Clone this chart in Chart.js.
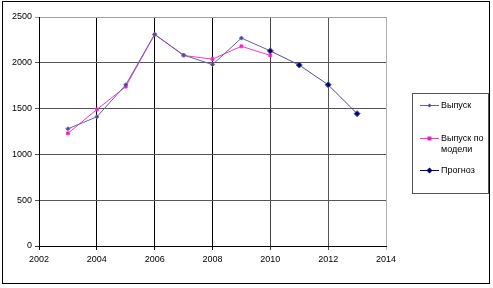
<!DOCTYPE html>
<html>
<head>
<meta charset="utf-8">
<script src="https://cdn.jsdelivr.net/npm/chart.js@4"></script>
<style>
  body { margin: 0; background: #fff; }
  #wrap { position: relative; width: 493px; height: 288px; }
  #legend {
    position: absolute; left: 412px; top: 93px; width: 75px; height: 99px;
    border: 1px solid #555; background: #fff;
    font-family: "Liberation Sans", Arial, sans-serif; font-size: 9px; color: #000;
  }
  .item { position: absolute; left: 7px; display: flex; align-items: flex-start; }
  .item canvas { margin-top: 1px; }
  .item span { margin-left: 2px; line-height: 11px; }
</style>
</head>
<body>
<div id="wrap">
  <canvas id="myChart" width="493" height="288"></canvas>
  <div id="legend"></div>
</div>
<script>
// data
const years = [2003, 2004, 2005, 2006, 2007, 2008, 2009, 2010];
const output = [1280, 1410, 1760, 2310, 2085, 1980, 2270, 2130];
const modelYears = [2003, 2004, 2005, 2006, 2007, 2008, 2009, 2010];
const modelOutput = [1230, 1490, 1740, 2310, 2080, 2040, 2180, 2080];
const forecastYears = [2010, 2011, 2012, 2013];
const forecast = [2130, 1975, 1760, 1445];
const xTicks = [2002, 2004, 2006, 2008, 2010, 2012, 2014];
const yTicks = [0, 500, 1000, 1500, 2000, 2500];

const toPoints = (xs, ys) => xs.map((x, i) => ({ x: x, y: ys[i] }));

const ctx = document.getElementById("myChart");

const frame = {
  id: "frame",
  beforeDraw(chart) {
    const c = chart.ctx;
    c.save();
    c.fillStyle = "#fff";
    c.fillRect(0, 0, chart.width, chart.height);
    c.strokeStyle = "#000";
    c.lineWidth = 1;
    c.strokeRect(2.5, 1.5, 487, 282);
    c.restore();
  },
};

const datasets = [
  {
    label: "Выпуск",
    data: toPoints(years, output),
    borderColor: "#6060a8",
    backgroundColor: "#4a4a9a",
    borderWidth: 1,
    pointStyle: "rectRot",
    pointRadius: 2,
    order: 2,
  },
  {
    label: "Выпуск по модели",
    data: toPoints(modelYears, modelOutput),
    borderColor: "#ff33cc",
    backgroundColor: "#e020c0",
    borderWidth: 1,
    pointStyle: "rect",
    pointRadius: 2,
    order: 3,
  },
  {
    label: "Прогноз",
    data: toPoints(forecastYears, forecast),
    borderColor: "#50508a",
    backgroundColor: "#000080",
    borderWidth: 1,
    pointStyle: "rectRot",
    pointRadius: 3,
    order: 1,
  },
];

const xGrid = (c) => {
  const v = c.tick ? c.tick.value : 0;
  if (v >= 2014) return "#b0b0b0";
  if (v >= 2012) return "#555";
  if (v >= 2010) return "#444";
  return "#000";
};
const yGrid = (c) => {
  const v = c.tick ? c.tick.value : 0;
  if (v >= 2500) return "#a0a0a0";
  if (v === 0) return "#333";
  return "#555";
};

new Chart(ctx, {
  type: "line",
  data: { datasets: datasets },
  options: {
    responsive: false,
    animation: false,
    layout: { padding: { left: 0, right: 107, top: 17, bottom: 0 } },
    plugins: { legend: { display: false }, tooltip: { enabled: false } },
    elements: { line: { tension: 0 } },
    scales: {
      x: {
        type: "linear",
        min: 2002,
        max: 2014,
        afterBuildTicks: (s) => { s.ticks = xTicks.map((v) => ({ value: v })); },
        afterFit: (s) => { s.height = 42; },
        ticks: {
          color: "#000",
          padding: 4,
          maxRotation: 0,
          font: { family: "'Liberation Sans', Arial, sans-serif", size: 9 },
          callback: (v) => String(v),
        },
        grid: { color: xGrid, tickLength: 4, lineWidth: 1 },
        border: { color: "#000" },
      },
      y: {
        min: 0,
        max: 2500,
        afterBuildTicks: (s) => { s.ticks = yTicks.map((v) => ({ value: v })); },
        afterFit: (s) => { s.width = 39; },
        ticks: {
          color: "#000",
          padding: 3,
          font: { family: "'Liberation Sans', Arial, sans-serif", size: 9 },
          callback: (v) => String(v),
        },
        grid: { color: yGrid, tickLength: 4, lineWidth: 1 },
        border: { color: "#000" },
      },
    },
  },
  plugins: [frame],
});

// html legend, since the middle label wraps onto two lines
const legend = document.getElementById("legend");
const rows = [
  { top: 6, text: "Выпуск" },
  { top: 39, text: "Выпуск по<br>модели" },
  { top: 71, text: "Прогноз" },
];
datasets.forEach((ds, i) => {
  const item = document.createElement("div");
  item.className = "item";
  item.style.top = rows[i].top + "px";
  const sample = document.createElement("canvas");
  sample.width = 19;
  sample.height = 9;
  const c = sample.getContext("2d");
  c.strokeStyle = i === 2 ? "#000080" : ds.borderColor;
  c.beginPath();
  c.moveTo(0, 4.5);
  c.lineTo(19, 4.5);
  c.stroke();
  c.fillStyle = ds.backgroundColor;
  const r = ds.pointRadius;
  if (ds.pointStyle === "rect") {
    c.fillRect(9.5 - r, 4.5 - r, 2 * r, 2 * r);
  } else {
    c.beginPath();
    c.moveTo(9.5, 4.5 - r);
    c.lineTo(9.5 + r, 4.5);
    c.lineTo(9.5, 4.5 + r);
    c.lineTo(9.5 - r, 4.5);
    c.closePath();
    c.fill();
  }
  const label = document.createElement("span");
  label.innerHTML = rows[i].text;
  item.appendChild(sample);
  item.appendChild(label);
  legend.appendChild(item);
});
</script>
</body>
</html>
